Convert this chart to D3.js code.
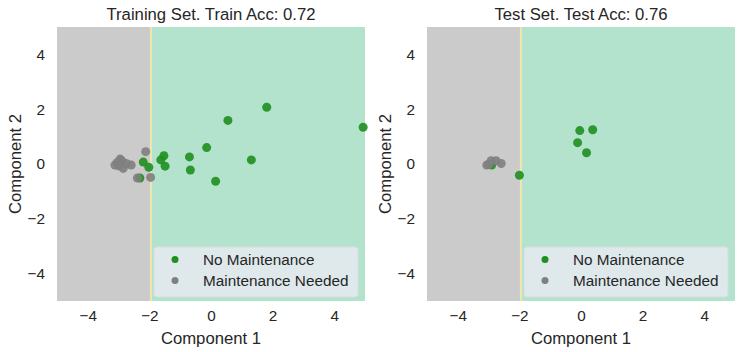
<!DOCTYPE html>
<html>
<head>
<meta charset="utf-8">
<script src="https://cdn.jsdelivr.net/npm/d3@7"></script>
<style>
  body { margin: 0; background: #fff; }
  text { font-family: "Liberation Sans", Arial, sans-serif; fill: #262626; }
</style>
</head>
<body>
<svg width="741" height="352"></svg>
<script>
// decision boundary (Component 1 value)
var boundary = -1.95
var ticks = [-4, -2, 0, 2, 4]

var trainGreenX = [1.81, 0.55, 4.94, -0.14, 1.31, -0.70, -0.67, 0.15, -1.53, -1.63, -1.49, -2.20, -2.02, -2.31]
var trainGreenY = [2.07, 1.59, 1.34, 0.60, 0.15, 0.26, -0.22, -0.63, 0.30, 0.15, -0.08, 0.07, -0.12, -0.51]
var trainGrayX = [-2.12, -1.96, -2.39, -2.59, -2.90, -3.12, -2.85, -3.00, -2.75, -3.05, -2.95]
var trainGrayY = [0.45, -0.49, -0.51, -0.04, 0.12, -0.04, -0.16, -0.07, 0.02, 0.05, 0.18]

var testGreenX = [-0.04, 0.38, -0.11, 0.18, -2.00, -2.90]
var testGreenY = [1.22, 1.25, 0.78, 0.41, -0.41, -0.04]
var testGrayX = [-2.59, -2.76, -2.92, -3.06, -3.00]
var testGrayY = [0.02, 0.12, 0.12, -0.04, -0.02]

var classes = ["No Maintenance", "Maintenance Needed"]
var colors = ["#1f8f1f", "#808080"]

var svg = d3.select("svg")

function draw_panel(left, title, gx, gy, rx, ry) {
  var w = 308, h = 274, top = 27
  var g = svg.append("g").attr("transform", "translate(" + left + "," + top + ")")

  var x = d3.scaleLinear().domain([-5, 5]).range([0, w])
  var y = d3.scaleLinear().domain([-5, 5]).range([h, 0])

  // regions
  g.append("rect").attr("x", 0).attr("y", 0)
    .attr("width", x(boundary)).attr("height", h).attr("fill", "#cbcbcb")
  g.append("rect").attr("x", x(boundary)).attr("y", 0)
    .attr("width", w - x(boundary)).attr("height", h).attr("fill", "#b3e3cd")
  g.append("line").attr("x1", x(boundary)).attr("x2", x(boundary))
    .attr("y1", 0).attr("y2", h).attr("stroke", "#efe6b0").attr("stroke-width", 2)

  // axes
  var fmt = d => d < 0 ? "\u2212" + (-d) : d
  g.append("g").attr("transform", "translate(0," + h + ")")
    .call(d3.axisBottom(x).tickValues(ticks).tickSize(0).tickPadding(9).tickFormat(fmt))
  g.append("g")
    .call(d3.axisLeft(y).tickValues(ticks).tickSize(0).tickPadding(12).tickFormat(fmt))
  g.selectAll(".domain").remove()
  g.selectAll(".tick text").style("font-size", "15.3px").attr("fill", "#262626")
    .style("font-family", "'Liberation Sans', Arial, sans-serif")

  g.append("text").attr("x", w / 2).attr("y", h + 43).attr("text-anchor", "middle")
    .style("font-size", "16.7px").text("Component 1")
  g.append("text").attr("transform", "translate(" + (-36) + "," + (h / 2) + ") rotate(-90)")
    .attr("text-anchor", "middle").style("font-size", "16.7px").text("Component 2")
  g.append("text").attr("x", w / 2).attr("y", -7).attr("text-anchor", "middle")
    .style("font-size", "16.7px").text(title)

  // points
  g.append("g").selectAll("circle")
    .data(gx.map((d, i) => [d, gy[i]]))
    .enter().append("circle")
    .attr("cx", d => x(d[0])).attr("cy", d => y(d[1])).attr("r", 4.5)
    .attr("fill", colors[0]).attr("opacity", 0.9)
  g.append("g").selectAll("circle")
    .data(rx.map((d, i) => [d, ry[i]]))
    .enter().append("circle")
    .attr("cx", d => x(d[0])).attr("cy", d => y(d[1])).attr("r", 4.5)
    .attr("fill", colors[1]).attr("opacity", 0.9)

  // legend
  var lg = g.append("g").attr("transform", "translate(" + (w - 211) + "," + (h - 54) + ")")
  lg.append("rect").attr("width", 204).attr("height", 50).attr("rx", 3)
    .attr("fill", "#eaeaf2").attr("fill-opacity", 0.8).attr("stroke", "#d8dde0")
  classes.forEach(function(c, i) {
    lg.append("circle").attr("cx", 21).attr("cy", 12.5 + i * 21).attr("r", 3.5).attr("fill", colors[i])
    lg.append("text").attr("x", 49).attr("y", 18 + i * 21).style("font-size", "15.3px").text(c)
  })
}

draw_panel(57, "Training Set. Train Acc: 0.72", trainGreenX, trainGreenY, trainGrayX, trainGrayY)
draw_panel(427, "Test Set. Test Acc: 0.76", testGreenX, testGreenY, testGrayX, testGrayY)
</script>
</body>
</html>
